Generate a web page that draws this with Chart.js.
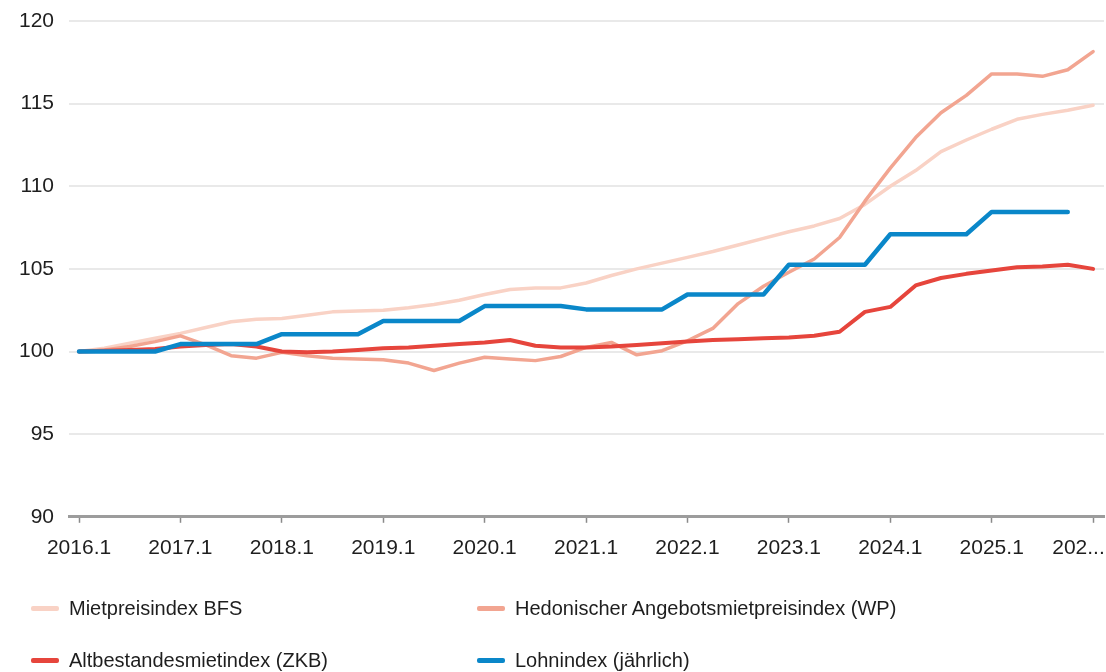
<!DOCTYPE html>
<html>
<head>
<meta charset="utf-8">
<script src="https://cdn.jsdelivr.net/npm/chart.js@4/dist/chart.umd.min.js"></script>
<style>
html,body{margin:0;padding:0;background:#fff;}
#wrap{position:relative;width:1106px;height:672px;overflow:hidden;background:#fff;}
#c{position:absolute;left:0;top:0;}
.leg{position:absolute;display:flex;align-items:center;height:24px;font-family:"Liberation Sans",Arial,sans-serif;font-size:20px;color:#1e1e1e;white-space:nowrap;}
.leg i{display:inline-block;width:28px;height:5px;margin-right:10px;border-radius:2px;}
</style>
</head>
<body>
<div id="wrap">
  <canvas id="c" width="1106" height="672"></canvas>
  <div id="legend"></div>
</div>
<script>
// ---- data ----
const quarters = [
  '2016.1','2016.2','2016.3','2016.4','2017.1','2017.2','2017.3','2017.4',
  '2018.1','2018.2','2018.3','2018.4','2019.1','2019.2','2019.3','2019.4',
  '2020.1','2020.2','2020.3','2020.4','2021.1','2021.2','2021.3','2021.4',
  '2022.1','2022.2','2022.3','2022.4','2023.1','2023.2','2023.3','2023.4',
  '2024.1','2024.2','2024.3','2024.4','2025.1','2025.2','2025.3','2025.4',
  '2026.1'
];
const tickQuarters = ['2016.1','2017.1','2018.1','2019.1','2020.1','2021.1','2022.1','2023.1','2024.1','2025.1','2026.1'];
const tickLabels   = ['2016.1','2017.1','2018.1','2019.1','2020.1','2021.1','2022.1','2023.1','2024.1','2025.1','202...'];

const seriesNames = ['Mietpreisindex BFS','Hedonischer Angebotsmietpreisindex (WP)','Altbestandesmietindex (ZKB)','Lohnindex (jährlich)'];

const mietpreisBFS = [
  100.0,100.2,100.5,100.8,101.1,101.45,101.8,101.95,
  102.0,102.2,102.4,102.45,102.5,102.65,102.85,103.1,
  103.45,103.75,103.85,103.85,104.15,104.6,105.0,105.35,
  105.7,106.05,106.45,106.85,107.25,107.6,108.05,108.9,
  110.0,110.95,112.1,112.8,113.45,114.05,114.35,114.6,
  114.9
];
const hedonischWP = [
  100.0,100.1,100.3,100.6,100.95,100.4,99.75,99.6,
  99.95,99.75,99.6,99.55,99.5,99.3,98.85,99.3,
  99.65,99.55,99.45,99.7,100.25,100.55,99.8,100.05,
  100.65,101.4,102.9,103.95,104.8,105.6,106.9,109.1,
  111.1,112.95,114.45,115.5,116.8,116.8,116.65,117.05,
  118.15
];
const altbestandZKB = [
  100.0,100.05,100.1,100.15,100.3,100.4,100.45,100.3,
  100.0,99.95,100.0,100.1,100.2,100.25,100.35,100.45,
  100.55,100.7,100.35,100.25,100.25,100.3,100.4,100.5,
  100.6,100.7,100.75,100.8,100.85,100.95,101.2,102.4,
  102.7,104.0,104.45,104.7,104.9,105.1,105.15,105.25,
  105.0
];
const lohnindex = [
  100.0,100.0,100.0,100.0,100.45,100.45,100.45,100.45,
  101.05,101.05,101.05,101.05,101.85,101.85,101.85,101.85,
  102.75,102.75,102.75,102.75,102.55,102.55,102.55,102.55,
  103.45,103.45,103.45,103.45,105.25,105.25,105.25,105.25,
  107.1,107.1,107.1,107.1,108.45,108.45,108.45,108.45,
  null
];
const seriesValues = [mietpreisBFS, hedonischWP, altbestandZKB, lohnindex];
const seriesColors = ['#f9d2c5','#f2a591','#e6453c','#0a87c9'];
const seriesWidths = [3.5, 3.5, 4, 4.5];
const yTicks = [90,95,100,105,110,115,120];

// ---- chart ----
const FONT = '"Liberation Sans", Arial, sans-serif';
const toPoints = vals => vals.map((v, i) => ({x: i, y: v}));

const datasets = seriesNames.map((name, k) => ({
  label: name,
  data: toPoints(seriesValues[k]),
  borderColor: seriesColors[k],
  backgroundColor: seriesColors[k],
  borderWidth: seriesWidths[k],
  pointRadius: 0,
  tension: 0,
  borderCapStyle: 'round',
  borderJoinStyle: 'round',
  spanGaps: false,
  order: seriesNames.length - k
}));

new Chart(document.getElementById('c'), {
  type: 'line',
  data: { datasets },
  options: {
    responsive: false,
    animation: false,
    devicePixelRatio: 1,
    layout: { padding: { left: 4, right: 2, top: 21, bottom: 98 } },
    plugins: { legend: { display: false }, tooltip: { enabled: false } },
    scales: {
      x: {
        type: 'linear',
        min: -0.394,
        max: 40.43,
        afterBuildTicks: axis => {
          axis.ticks = tickQuarters.map(q => ({ value: quarters.indexOf(q) }));
        },
        afterFit: axis => { axis.paddingLeft = 0; axis.paddingRight = 0; },
        grid: {
          drawOnChartArea: false,
          drawTicks: true,
          tickLength: 6,
          tickWidth: 1.5,
          tickColor: '#8a8a8a'
        },
        border: { display: true, color: '#9c9c9c', width: 3 },
        ticks: {
          autoSkip: false,
          maxRotation: 0,
          padding: 13,
          color: '#1e1e1e',
          font: { family: FONT, size: 21 },
          callback: (value) => {
            const k = tickQuarters.indexOf(quarters[value]);
            if (k === tickLabels.length - 1) return tickLabels[k] + '\u00a0\u00a0\u00a0\u00a0\u00a0';
            return k >= 0 ? tickLabels[k] : '';
          }
        }
      },
      y: {
        min: 90,
        max: 120,
        afterBuildTicks: axis => { axis.ticks = yTicks.map(v => ({ value: v })); },
        afterFit: axis => { axis.paddingTop = 0; axis.paddingBottom = 0; },
        grid: { color: '#e9e9e9', lineWidth: 2, drawTicks: false },
        border: { display: false },
        ticks: {
          padding: 15,
          color: '#1e1e1e',
          font: { family: FONT, size: 21 }
        }
      }
    }
  }
});

// ---- legend (HTML, built from series arrays) ----
const legPos = [[31, 596], [477, 596], [31, 648], [477, 648]];
const legend = document.getElementById('legend');
seriesNames.forEach((name, k) => {
  const d = document.createElement('div');
  d.className = 'leg';
  d.style.left = legPos[k][0] + 'px';
  d.style.top = legPos[k][1] + 'px';
  const sw = document.createElement('i');
  sw.style.background = seriesColors[k];
  d.appendChild(sw);
  d.appendChild(document.createTextNode(name));
  legend.appendChild(d);
});
</script>
</body>
</html>
